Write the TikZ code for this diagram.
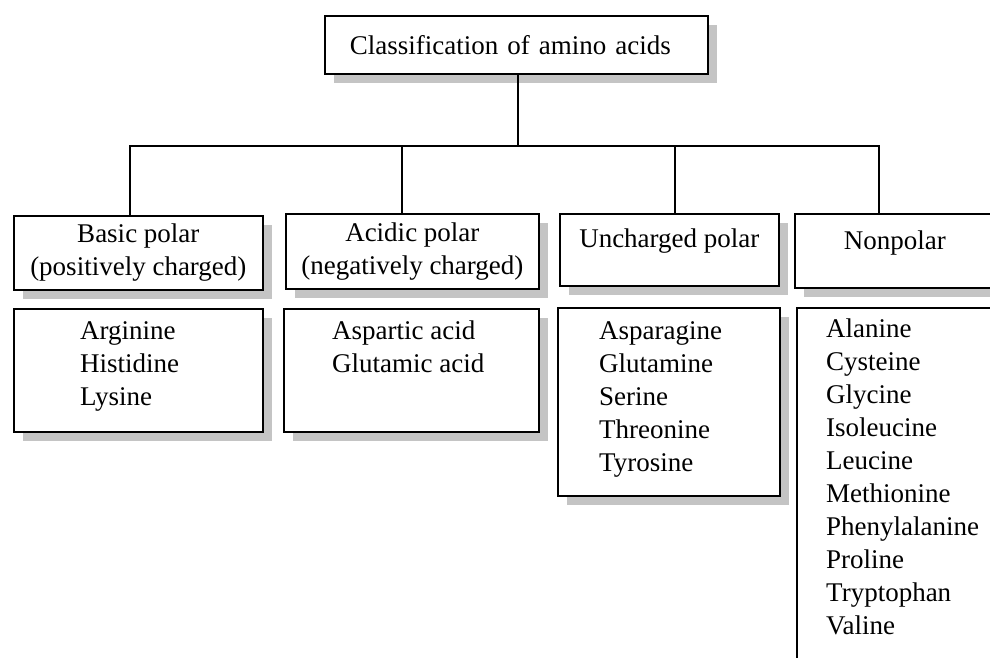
\documentclass[tikz,border=0pt]{standalone}
\usepackage{fontspec}
\setmainfont{Liberation Serif}
\usepackage{tikz}
\usetikzlibrary{shadows, positioning}

\begin{document}
\begin{tikzpicture}[x=1pt,y=1pt,font=\fontsize{27}{33}\selectfont,
 box/.style={draw,line width=1.7pt,fill=white,inner sep=0pt,anchor=north west,
  drop shadow={shadow xshift=9pt,shadow yshift=-9pt,fill=black!23,opacity=1}},
 names/.style={align=left,inner sep=0pt,anchor=north west},
 link/.style={draw,line width=1.8pt}]

  \useasboundingbox (0,0) rectangle (990,-657);

  \node[box,inner xsep=25pt,text width=333pt,align=left,minimum height=58pt] (title) at (324,-15) {Classification of amino acids};

  \node[box,minimum width=249pt,minimum height=74pt,align=center] (basic) at (13,-215) {Basic polar\\(positively charged)};
  \node[box,minimum width=253pt,minimum height=75pt,align=center] (acidic) at (285,-213) {Acidic polar\\(negatively charged)};
  \node[box,minimum width=219pt,text height=34pt,text depth=38pt] (uncharged) at (559,-213) {Uncharged polar};
  \node[box,minimum width=200pt,text height=36pt,text depth=38pt] (nonpolar) at (794,-213) {Nonpolar};

  \node[box,minimum width=249pt,minimum height=123pt] (basiclist) at (13,-308) {};
  \node[box,minimum width=255pt,minimum height=123pt] (acidiclist) at (283,-308) {};
  \node[box,minimum width=222pt,minimum height=188pt] (unchargedlist) at (557,-307) {};
  \node[box,minimum width=200pt,minimum height=400pt] (nonpolarlist) at (796,-307) {};

  \node[names] (basicnames) at ([xshift=67pt,yshift=-13pt]basiclist.north west) {Arginine\\Histidine\\Lysine};
  \node[names] (acidicnames) at ([xshift=49pt,yshift=-13pt]acidiclist.north west) {Aspartic acid\\Glutamic acid};
  \node[names] (unchargednames) at ([xshift=42pt,yshift=-14pt]unchargedlist.north west) {Asparagine\\Glutamine\\Serine\\Threonine\\Tyrosine};
  \node[names] (nonpolarnames) at ([xshift=30pt,yshift=-12pt]nonpolarlist.north west) {Alanine\\Cysteine\\Glycine\\Isoleucine\\Leucine\\Methionine\\Phenylalanine\\Proline\\Tryptophan\\Valine};

  \path[link] ([xshift=1.5pt]title.south) -- ++(0,-71) coordinate (fork);
  \foreach \n/\dx in {basic/-8.5, acidic/-10.5, uncharged/5.5, nonpolar/-16} {
   \path[link] (fork) -| ([xshift=\dx pt]\n.north);}

\end{tikzpicture}
\end{document}
